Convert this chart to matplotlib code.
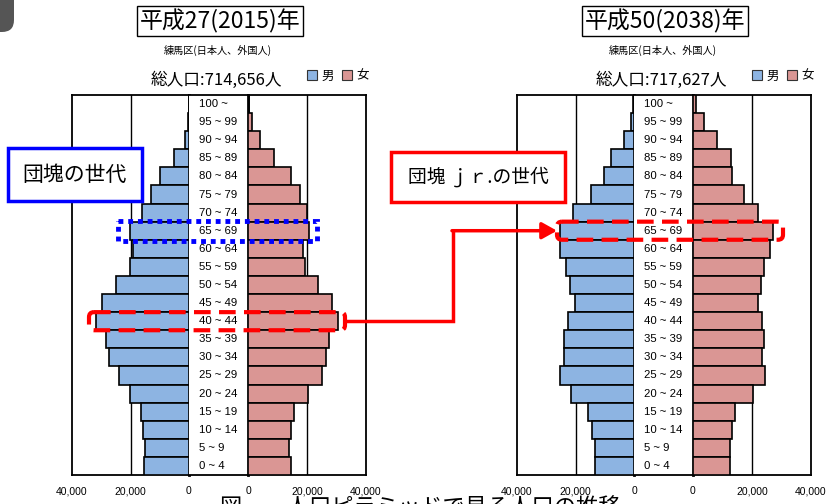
import matplotlib.pyplot as plt
import numpy as np
from matplotlib.patches import Rectangle, FancyBboxPatch, Patch

plt.rcParams['font.family'] = ['Noto Sans CJK JP', 'DejaVu Sans']

### DATA

ages = ['100 ~', '95 ~ 99', '90 ~ 94', '85 ~ 89', '80 ~ 84', '75 ~ 79', '70 ~ 74',
        '65 ~ 69', '60 ~ 64', '55 ~ 59', '50 ~ 54', '45 ~ 49', '40 ~ 44', '35 ~ 39',
        '30 ~ 34', '25 ~ 29', '20 ~ 24', '15 ~ 19', '10 ~ 14', '5 ~ 9', '0 ~ 4']

# 2015 (top row first)
male_2015 = [100, 300, 1400, 5100, 10000, 13100, 16100, 20100, 19000, 20100, 24900,
             29800, 31800, 28400, 27500, 24100, 20100, 16500, 15700, 15000, 15400]
female_2015 = [200, 1250, 4100, 8900, 14600, 17600, 19900, 20800, 18500, 19300, 23600,
               28400, 30600, 27600, 26300, 25000, 20500, 15700, 14600, 13800, 14600]

# 2038
male_2038 = [300, 900, 3500, 7900, 10200, 14800, 21000, 25200, 25400, 23200, 22000,
             20300, 22700, 23800, 23800, 25200, 21600, 15800, 14200, 13300, 13300]
female_2038 = [900, 3700, 8100, 12900, 13100, 17200, 22000, 27000, 26100, 23900, 23100,
               22200, 23400, 24000, 23300, 24400, 20300, 14200, 13100, 12600, 12600]

titles = ['平成27(2015)年', '平成50(2038)年']
totals = ['総人口:714,656人', '総人口:717,627人']
subtitle = '練馬区(日本人、外国人)'
xticks = [0, 20000, 40000]
xticklabels = ['0', '20,000', '40,000']

male_color = '#8db4e2'
female_color = '#da9694'

W, H = 829, 504
fig = plt.figure(figsize=(W / 100, H / 100), dpi=100)


def rect(x0, y0, x1, y1):
    # pixel box -> figure coords
    return [x0 / W, 1 - y1 / H, (x1 - x0) / W, (y1 - y0) / H]


TOP, BOTTOM = 95, 475
n = len(ages)
ypos = np.arange(n)


def pyramid(x0, male, female, title, total, tcx):
    mx0, mx1 = x0, x0 + 117
    lx1 = mx1 + 59
    fx1 = lx1 + 118

    axm = fig.add_axes(rect(mx0, TOP, mx1, BOTTOM))
    axl = fig.add_axes(rect(mx1, TOP, lx1, BOTTOM))
    axf = fig.add_axes(rect(lx1, TOP, fx1, BOTTOM))

    for ax, vals, col in [(axm, male, male_color), (axf, female, female_color)]:
        ax.barh(ypos, vals, height=1.0, color=col, edgecolor='black', linewidth=1.2, zorder=3)
        ax.axvline(20000, color='black', linewidth=1, zorder=1)
        ax.set_ylim(n - 0.5, -0.5)
        ax.set_yticks([])
        ax.set_xticks(xticks)
        ax.set_xticklabels(xticklabels, family=['Liberation Sans Narrow', 'Liberation Sans'])
        ax.tick_params(axis='x', length=0, pad=8, labelsize=7.5)
        for s in ax.spines.values():
            s.set_linewidth(1.3)
    axm.set_xlim(40000, 0)
    axf.set_xlim(0, 40000)
    axm.spines['right'].set_linewidth(2)
    axf.spines['left'].set_linewidth(2)

    axl.set_ylim(n - 0.5, -0.5)
    axl.set_xlim(0, 1)
    axl.set_xticks([])
    axl.set_yticks([])
    axl.spines['left'].set_visible(False)
    axl.spines['right'].set_visible(False)
    axl.spines['top'].set_linewidth(1.3)
    axl.spines['bottom'].set_linewidth(1.3)
    for i, a in enumerate(ages):
        axl.text(0.17, i, a, ha='left', va='center', fontsize=8.2,
                 family=['Liberation Sans', 'DejaVu Sans'])

    # titles
    fig.text(tcx / W, 1 - 21 / H, title, ha='center', va='center', fontsize=16.5,
             bbox=dict(boxstyle='square,pad=0.12', fc='white', ec='black', lw=1))
    fig.text((tcx - 2) / W, 1 - 50 / H, subtitle, ha='center', va='center', fontsize=7.3)
    fig.text((tcx - 4) / W, 1 - 80 / H, total, ha='center', va='center', fontsize=12)
    handles = [Patch(fc=male_color, ec='#333333', lw=0.8, label='男'),
               Patch(fc=female_color, ec='#333333', lw=0.8, label='女')]
    fig.legend(handles=handles, ncol=2, frameon=False, loc='center',
               bbox_to_anchor=((tcx + 118) / W, 1 - 76 / H), fontsize=9,
               handlelength=0.8, handleheight=0.8, handletextpad=0.3,
               columnspacing=0.7, borderpad=0)
    return axm, axl, axf


left = pyramid(72, male_2015, female_2015, titles[0], totals[0], 220)
right = pyramid(517, male_2038, female_2038, titles[1], totals[1], 665)

# overlay in pixel coordinates for the annotations
ov = fig.add_axes([0, 0, 1, 1], zorder=10)
ov.set_xlim(0, W)
ov.set_ylim(H, 0)
ov.axis('off')

rowh = (BOTTOM - TOP) / n


def row_y(label):
    i = ages.index(label)
    return TOP + i * rowh, TOP + (i + 1) * rowh


# dark corner shape
ov.add_patch(FancyBboxPatch((-30, -30), 44, 62, boxstyle='round,pad=0,rounding_size=12',
                            fc='#555555', ec='none', clip_on=False))

# 団塊の世代
y0, y1 = row_y('65 ~ 69')
ov.add_patch(Rectangle((118, y0 - 1), 199, y1 - y0 + 2, fill=False, ec='#0000ff',
                       lw=3.5, ls=(0, (1, 1))))
ov.add_patch(Rectangle((8, 148), 134, 53, fc='white', ec='#0000ff', lw=2.5))
ov.text(75, 175, '団塊の世代', ha='center', va='center', fontsize=15)

# 団塊jr.の世代
y0, y1 = row_y('40 ~ 44')
ov.add_patch(FancyBboxPatch((89, y0), 256, y1 - y0, boxstyle='round,pad=0,rounding_size=5',
                            fill=False, ec='#ff0000', lw=3, ls=(0, (4, 2))))
y0b, y1b = row_y('65 ~ 69')
ov.add_patch(FancyBboxPatch((557, y0b), 226, y1b - y0b, boxstyle='round,pad=0,rounding_size=5',
                            fill=False, ec='#ff0000', lw=3, ls=(0, (4, 2))))
ym = (y0 + y1) / 2
ymb = (y0b + y1b) / 2
ov.plot([347, 453, 453], [ym, ym, ymb], color='#ff0000', lw=2.5, solid_joinstyle='miter')
ov.annotate('', xy=(557, ymb), xytext=(452, ymb),
            arrowprops=dict(arrowstyle='-|>,head_length=0.9,head_width=0.5',
                            color='#ff0000', lw=2.5, shrinkA=0, shrinkB=0))
ov.add_patch(Rectangle((391, 152), 174, 50, fc='white', ec='#ff0000', lw=2.5))
ov.text(478, 177, '団塊 ｊｒ.の世代', ha='center', va='center', fontsize=13.5)

# caption cut off at the bottom edge, as in the source
ov.text(420, 497, '図　　人口ピラミッドで見る人口の推移', ha='center', va='top', fontsize=16,
        clip_on=False)

fig.savefig('out.png', dpi=100)
